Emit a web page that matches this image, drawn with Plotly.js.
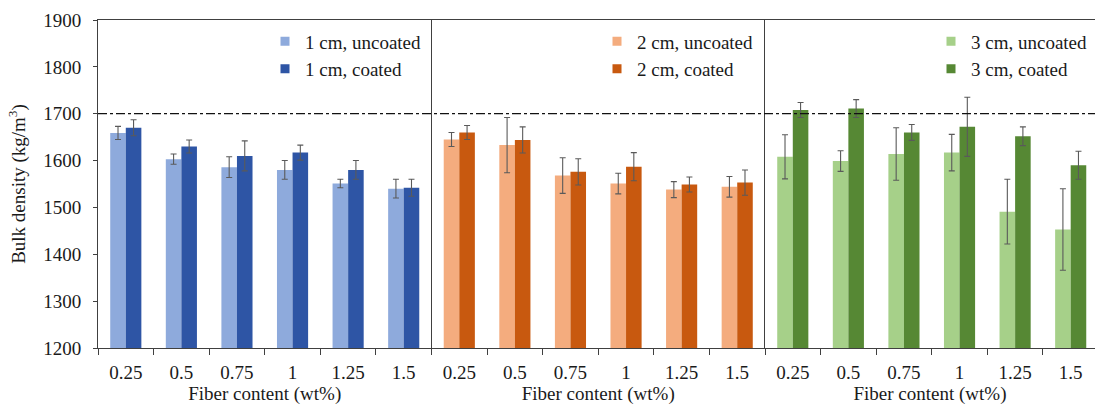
<!DOCTYPE html>
<html>
<head>
<meta charset="utf-8">
<script src="https://cdn.plot.ly/plotly-3.0.1.min.js"></script>
<style>html,body{margin:0;padding:0;background:#fff;overflow:hidden}#chart{width:1095px;height:405px}</style>
</head>
<body>
<div id="chart"></div>
<script>
const fiberContent = ['0.25', '0.5', '0.75', '1', '1.25', '1.5'];

const unc1cm = [1659, 1603, 1586, 1580, 1551, 1540];
const unc1cmErr = [14, 11, 22, 20, 9, 20];
const coa1cm = [1670, 1630, 1610, 1617, 1580, 1542];
const coa1cmErr = [17, 14, 32, 16, 20, 18];

const unc2cm = [1645, 1633, 1568, 1551, 1538, 1544];
const unc2cmErr = [15, 59, 38, 22, 17, 22];
const coa2cm = [1660, 1644, 1576, 1587, 1549, 1553];
const coa2cmErr = [15, 28, 28, 30, 16, 27];

const unc3cm = [1608, 1599, 1614, 1617, 1491, 1453];
const unc3cmErr = [47, 22, 56, 39, 69, 87];
const coa3cm = [1708, 1711, 1660, 1672, 1652, 1590];
const coa3cmErr = [16, 19, 17, 63, 20, 30];

const seriesNames = ['1 cm, uncoated', '1 cm, coated', '2 cm, uncoated', '2 cm, coated', '3 cm, uncoated', '3 cm, coated'];
const colors = ['#8eaadc', '#2e55a5', '#f4ac7e', '#c8590f', '#a6d089', '#568834'];

const FONT = "'Liberation Serif', 'Times New Roman', Times, serif";
const TXT = '#1a1a1a';
const LINE = '#404040';
const ERR = '#5a5a5a';

const data = [];
const sets = [
  [unc1cm, unc1cmErr, coa1cm, coa1cmErr],
  [unc2cm, unc2cmErr, coa2cm, coa2cmErr],
  [unc3cm, unc3cmErr, coa3cm, coa3cmErr]
];
sets.forEach((s, p) => {
  const xa = p === 0 ? 'x' : 'x' + (p + 1);
  const ya = p === 0 ? 'y' : 'y' + (p + 1);
  for (let k = 0; k < 2; k++) {
    data.push({
      type: 'bar', x: fiberContent, y: s[k * 2], xaxis: xa, yaxis: ya,
      name: seriesNames[p * 2 + k], showlegend: false,
      marker: {color: colors[p * 2 + k], line: {width: 0}},
      error_y: {type: 'data', array: s[k * 2 + 1], visible: true, color: ERR, thickness: 1.1, width: 3}
    });
  }
  for (let k = 0; k < 2; k++) {
    data.push({
      type: 'scatter', mode: 'markers', x: [null], y: [null], xaxis: xa, yaxis: ya,
      name: seriesNames[p * 2 + k], showlegend: true,
      legend: p === 0 ? 'legend' : 'legend' + (p + 1),
      marker: {symbol: 'square', size: 9, color: colors[p * 2 + k]}
    });
  }
});

const W = 997;
const catW = 55.58;
const d1 = 333.5 / W, d2 = 667 / W;
const range3 = [-0.5, -0.5 + (W - 667) / catW];

function xAxis(domain, anchor, range) {
  return {
    domain: domain, anchor: anchor, type: 'category', range: range,
    showline: true, linecolor: LINE, linewidth: 1, mirror: true,
    ticks: 'outside', tickson: 'boundaries', ticklen: 6, tickcolor: LINE, tickwidth: 1,
    showgrid: false, zeroline: false, fixedrange: true,
    tickfont: {family: FONT, size: 19, color: TXT}, ticklabelstandoff: 7,
    title: {text: 'Fiber content (wt%)', font: {family: FONT, size: 19, color: TXT}, standoff: 8}
  };
}
function yAxis(anchor, labels) {
  const ax = {
    anchor: anchor, range: [1200, 1900], dtick: 100, showline: true, linecolor: LINE, linewidth: 1,
    ticks: labels ? 'outside' : '', ticklen: 4, tickcolor: LINE,
    showticklabels: labels, showgrid: false, zeroline: false, fixedrange: true,
    tickfont: {family: FONT, size: 19, color: TXT}, ticklabelstandoff: 8
  };
  if (labels) ax.title = {text: 'Bulk density (kg/m<sup>3</sup>)', font: {family: FONT, size: 19, color: TXT}, standoff: 12};
  return ax;
}
function legendAt(x) {
  return {x: x, xanchor: 'left', y: 0.993, yanchor: 'top', bgcolor: 'rgba(0,0,0,0)',
    font: {family: FONT, size: 19, color: TXT}, tracegroupgap: 0, itemclick: false};
}

const layout = {
  width: 1095, height: 405,
  margin: {l: 98, r: 0, t: 20, b: 57},
  paper_bgcolor: '#fff', plot_bgcolor: '#fff',
  barmode: 'group', bargap: 0.44, bargroupgap: 0,
  font: {family: FONT, color: TXT},
  xaxis: xAxis([0, d1], 'y', [-0.5, 5.5]),
  xaxis2: xAxis([d1, d2], 'y2', [-0.5, 5.5]),
  xaxis3: xAxis([d2, 1], 'y3', range3),
  yaxis: yAxis('x', true),
  yaxis2: yAxis('x2', false),
  yaxis3: yAxis('x3', false),
  legend: legendAt((265 - 98) / W),
  legend2: legendAt((597 - 98) / W),
  legend3: legendAt((931 - 98) / W),
  shapes: [{type: 'line', xref: 'paper', yref: 'y', x0: 0, x1: 1, y0: 1700, y1: 1700,
    line: {color: '#111', width: 1.3, dash: 'dashdot'}}]
};

Plotly.newPlot('chart', data, layout, {displayModeBar: false, staticPlot: true});
</script>
</body>
</html>
